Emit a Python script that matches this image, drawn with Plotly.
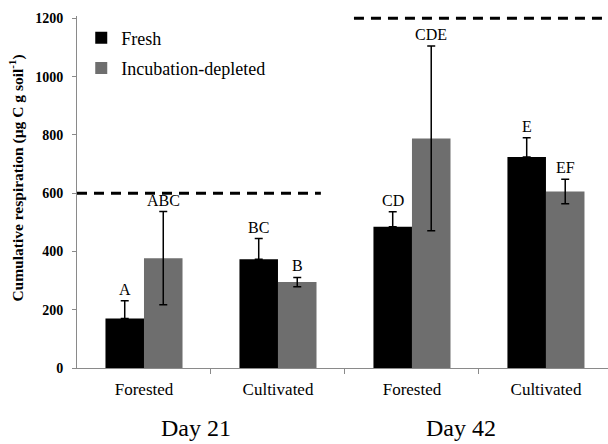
import plotly.graph_objects as go

categories = ["Forested", "Cultivated", "Forested", "Cultivated"]
days = ["Day 21", "Day 42"]
fresh = [170, 373, 485, 724]
fresh_err = [61, 71, 51, 66]
fresh_letters = ["A", "BC", "CD", "E"]
depleted = [377, 295, 788, 606]
depleted_err = [160, 16, 317, 42]
depleted_letters = ["ABC", "B", "CDE", "EF"]
thresholds = [600, 1200]
yticks = [0, 200, 400, 600, 800, 1000, 1200]

FONT = "Liberation Serif, Times New Roman, serif"
xpos = list(range(len(categories)))
bargap = 0.425
half = (1 - bargap) / 4

fig = go.Figure()
fig.add_trace(go.Bar(
    x=xpos, y=fresh, name="Fresh", legendgroup="a",
    marker=dict(color="#000000", line=dict(width=0)),
    error_y=dict(type="data", array=fresh_err, arrayminus=[0]*4, color="#000000", thickness=1.5, width=4),
))
fig.add_trace(go.Bar(
    x=xpos, y=depleted, name="Incubation-depleted", legendgroup="b",
    marker=dict(color="#6e6e6e", line=dict(width=0)),
    error_y=dict(type="data", array=depleted_err, color="#000000", thickness=1.5, width=4),
))

for i in xpos:
    fig.add_annotation(x=i - half, y=fresh[i] + fresh_err[i], text=fresh_letters[i],
                       showarrow=False, yanchor="bottom", yshift=1,
                       font=dict(family=FONT, size=16, color="#000"))
    fig.add_annotation(x=i + half, y=depleted[i] + depleted_err[i], text=depleted_letters[i],
                       showarrow=False, yanchor="bottom", yshift=1,
                       font=dict(family=FONT, size=16, color="#000"))

# reference lines (one per day)
fig.add_shape(type="line", x0=-0.5, x1=1.32, y0=thresholds[0], y1=thresholds[0],
              line=dict(color="#000", width=3, dash="10px,7px"))
fig.add_shape(type="line", x0=1.567, x1=3.47, y0=thresholds[1], y1=thresholds[1],
              line=dict(color="#000", width=3, dash="10px,7px"))

for j, d in enumerate(days):
    fig.add_annotation(x=[0.388, 2.366][j], y=0, yref="paper", xref="x", text=d,
                       showarrow=False, yanchor="middle", yshift=-60,
                       font=dict(family=FONT, size=24, color="#000"))

# y-axis title as a rotated annotation (centred slightly above plot middle, as in the reference)
fig.add_annotation(x=(17 - 77) / 531, xref="paper", y=0.538, yref="paper",
                   text="Cumulative respiration (µg C g soil<sup>-1</sup>)",
                   showarrow=False, textangle=-90, xanchor="center", yanchor="middle",
                   font=dict(family=FONT, size=15.5, color="#000", weight="bold"))

fig.update_layout(
    width=608, height=444,
    margin=dict(l=77, r=0, t=16, b=76),
    paper_bgcolor="white", plot_bgcolor="white",
    barmode="group", bargap=bargap, bargroupgap=0,
    showlegend=True,
    legend=dict(x=0.008, y=0.99, xanchor="left", yanchor="top",
                font=dict(family=FONT, size=18, color="#000"),
                bgcolor="rgba(0,0,0,0)", itemwidth=30, tracegroupgap=4),
    xaxis=dict(
        range=[-0.5, 3.463], tickmode="array", tickvals=xpos, ticktext=categories,
        ticks="", showgrid=False, zeroline=False,
        showline=True, linecolor="#8a8a8a", linewidth=1,
        tickfont=dict(family=FONT, size=17, color="#000"), ticklabelstandoff=6,
        minor=dict(tickmode="array", tickvals=[0.5, 1.5, 2.5], ticks="outside",
                   ticklen=5, tickcolor="#8a8a8a", tickwidth=1, showgrid=False),
    ),
    yaxis=dict(
        range=[0, 1208], tickmode="array", tickvals=yticks,
        ticks="outside", ticklen=4, tickcolor="#8a8a8a",
        showgrid=False, zeroline=False, showline=True, linecolor="#8a8a8a", linewidth=1,
        tickfont=dict(family=FONT, size=14, color="#000", weight="bold"), ticklabelstandoff=6,
    ),
)

fig.write_html("out.html", config={"displayModeBar": False},
               post_script="document.body.style.margin='0';document.body.style.padding='0';")
